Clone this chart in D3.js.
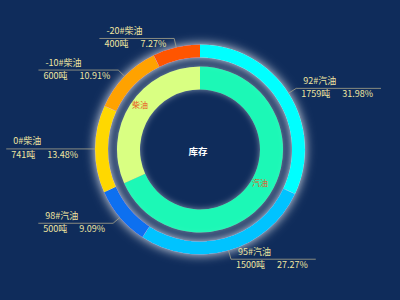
<!DOCTYPE html>
<html><head><meta charset="utf-8">
<script src="https://cdn.jsdelivr.net/npm/d3@7"></script>
<style>html,body{margin:0;padding:0;background:#0f2c5b;}svg{display:block;}</style>
</head><body>
<svg id="c" width="400" height="300"></svg>
<script>
const outerNames = ['92#汽油','95#汽油','98#汽油','0#柴油','-10#柴油','-20#柴油'];
const outerValues = [1759,1500,500,741,600,400];
const outerPercents = ['31.98%','27.27%','9.09%','13.48%','10.91%','7.27%'];
const outerColors = ['#00ffff','#00c3ff','#0e6ff0','#ffd800','#ffa200','#ff5500'];
const innerNames = ['汽油','柴油'];
const innerValues = [3759,1741];
const innerColors = ['#1cf8b6','#d9ff82'];
const centerTitle = '库存';
const unit = '吨';

const W = 400, H = 300, cx = 200, cy = 149.5;
const font = '"Noto Sans CJK SC","Noto Sans",sans-serif';
const svg = d3.select('#c');
svg.append('rect').attr('width',W).attr('height',H).attr('fill','#0f2c5b');

const defs = svg.append('defs');
const f = defs.append('filter').attr('id','glow').attr('x','-30%').attr('y','-30%').attr('width','160%').attr('height','160%');
f.append('feFlood').attr('flood-color','#ffffff').attr('flood-opacity',0.9).attr('result','fl');
f.append('feComposite').attr('in','fl').attr('in2','SourceAlpha').attr('operator','in').attr('result','sh');
f.append('feGaussianBlur').attr('in','sh').attr('stdDeviation',5.5).attr('result','bl');
const m = f.append('feMerge');
m.append('feMergeNode').attr('in','bl');
m.append('feMergeNode').attr('in','SourceGraphic');

const f2 = defs.append('filter').attr('id','glow2').attr('x','-30%').attr('y','-30%').attr('width','160%').attr('height','160%');
f2.append('feFlood').attr('flood-color','#c8d0dc').attr('flood-opacity',0.6).attr('result','fl');
f2.append('feComposite').attr('in','fl').attr('in2','SourceAlpha').attr('operator','in').attr('result','sh');
f2.append('feGaussianBlur').attr('in','sh').attr('stdDeviation',3).attr('result','bl');
const m2 = f2.append('feMerge');
m2.append('feMergeNode').attr('in','bl');
m2.append('feMergeNode').attr('in','SourceGraphic');

const pie = d3.pie().sort(null).value(d => d.v);
const outerData = pie(outerValues.map((v,i)=>({v, name: outerNames[i], per: outerPercents[i], color: outerColors[i]})));
const innerData = pie(innerValues.map((v,i)=>({v, name: innerNames[i], color: innerColors[i]})));

const g = svg.append('g').attr('transform',`translate(${cx},${cy})`);
const outerArc = d3.arc().innerRadius(92).outerRadius(105);
const innerArc = d3.arc().innerRadius(60).outerRadius(83);

g.append('g').attr('filter','url(#glow2)').selectAll('path').data(innerData).join('path')
  .attr('d', innerArc).attr('fill', d=>d.data.color);
g.append('g').attr('filter','url(#glow)').selectAll('path').data(outerData).join('path')
  .attr('d', outerArc).attr('fill', d=>d.data.color);

// inner labels
const labArc = d3.arc().innerRadius(60).outerRadius(83);
g.selectAll('text.in').data(innerData).join('text').attr('class','in')
  .attr('x', d=>labArc.centroid(d)[0]).attr('y', d=>labArc.centroid(d)[1]-6)
  .attr('text-anchor','middle').attr('dominant-baseline','central')
  .attr('font-family',font).attr('font-size',8).attr('fill','#e8501c')
  .text(d=>d.data.name);

// center
g.append('text').attr('x',-2).attr('y',1).attr('text-anchor','middle').attr('dominant-baseline','central')
  .attr('font-family',font).attr('font-size',9.5).attr('font-weight','bold').attr('fill','#ffffff').text(centerTitle);

// outer labels
const lblColor = '#efe6a0', lineColor = '#a8a58a';
outerData.forEach(d => {
  const a = (d.startAngle + d.endAngle)/2;
  const s = Math.sin(a), c = -Math.cos(a);
  const p0 = [s*105, c*105], p1 = [s*114, c*114];
  const right = s > 0;
  const lg = g.append('g');
  const t1 = lg.append('text').attr('font-family',font).attr('font-size',9).attr('fill',lblColor).text(d.data.name);
  const t2 = lg.append('text').attr('font-family',font).attr('font-size',9).attr('fill',lblColor).text(d.data.v + unit);
  const t3 = lg.append('text').attr('font-family',font).attr('font-size',9).attr('fill',lblColor).text(d.data.per);
  const w1 = t1.node().getComputedTextLength();
  const w2 = t2.node().getComputedTextLength();
  const w3 = t3.node().getComputedTextLength();
  const gap = 12, padL = 6, padR = 7;
  const wl = Math.max(w1 + 2, w2 + gap + w3) + padL + padR;
  const x0 = right ? p1[0] : p1[0] - wl;
  const x1 = right ? p1[0] + wl : p1[0];
  const y = p1[1];
  lg.insert('path','text').attr('d', right ? `M${p0}L${p1}L${x1},${y}` : `M${p0}L${p1}L${x0},${y}`)
    .attr('fill','none').attr('stroke',lineColor).attr('stroke-width',0.8);
  t1.attr('x', x0 + padL + 1).attr('y', y - 4.5);
  t2.attr('x', x0 + padL - 1).attr('y', y + 9);
  t3.attr('x', x0 + padL - 1 + w2 + gap).attr('y', y + 9);
});
</script>
</body></html>
